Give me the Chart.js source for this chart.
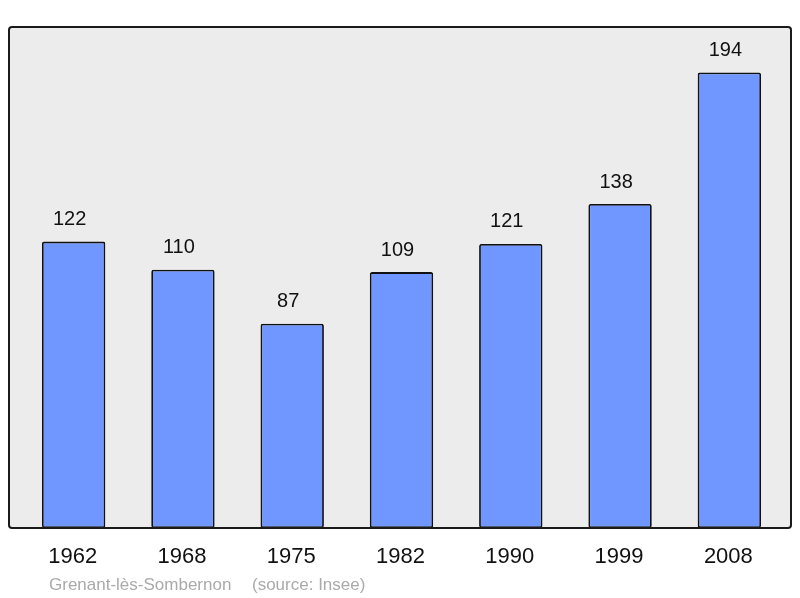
<!DOCTYPE html>
<html>
<head>
<meta charset="utf-8">
<script src="https://cdn.jsdelivr.net/npm/chart.js@4"></script>
<style>
  html, body { margin: 0; padding: 0; background: #fff; }
  #wrap { width: 800px; height: 598px; }
</style>
</head>
<body>
<div id="wrap"><canvas id="popChart" width="800" height="598"></canvas></div>
<script>
const years = ["1962", "1968", "1975", "1982", "1990", "1999", "2008"];
const population = [122, 110, 87, 109, 121, 138, 194];
const townName = "Grenant-lès-Sombernon";
const sourceText = "(source: Insee)";

// box behind the bars, a bit wider than the chart area
const boxPlugin = {
  id: "box",
  beforeDatasetsDraw(chart) {
    const { ctx, chartArea } = chart;
    const l = chartArea.left - 10, r = chartArea.right + 7;
    const t = chartArea.top, b = chartArea.bottom;
    ctx.save();
    ctx.beginPath();
    ctx.roundRect(l, t, r - l, b - t, 3);
    ctx.fillStyle = "#ececec";
    ctx.fill();
    ctx.restore();
  },
  afterDatasetsDraw(chart) {
    const { ctx, chartArea } = chart;
    const l = chartArea.left - 10, r = chartArea.right + 7;
    const t = chartArea.top, b = chartArea.bottom;
    ctx.save();
    ctx.beginPath();
    ctx.roundRect(l, t, r - l, b - t, 3);
    ctx.lineWidth = 2;
    ctx.strokeStyle = "#1a1a1a";
    ctx.stroke();
    ctx.restore();
  }
};

// value labels, year labels and source line
const labelPlugin = {
  id: "labels",
  afterDraw(chart) {
    const { ctx, chartArea } = chart;
    const xs = chart.scales.x, ys = chart.scales.y;
    ctx.save();
    ctx.textAlign = "center";
    ctx.textBaseline = "middle";
    ctx.fillStyle = "#111";
    ctx.font = "20px 'Liberation Sans', Arial, sans-serif";
    population.forEach((v, i) => {
      ctx.fillText(String(v), xs.getPixelForValue(i) - 4, ys.getPixelForValue(v) - 22);
    });
    ctx.font = "22px 'Liberation Sans', Arial, sans-serif";
    years.forEach((y, i) => {
      ctx.fillText(y, xs.getPixelForValue(i) - 1, chartArea.bottom + 29);
    });
    ctx.textAlign = "left";
    ctx.fillStyle = "#aaaaaa";
    ctx.font = "17px 'Liberation Sans', Arial, sans-serif";
    ctx.fillText(townName, 49, chartArea.bottom + 57);
    ctx.fillText(sourceText, 252, chartArea.bottom + 57);
    ctx.restore();
  }
};

const chart = new Chart(document.getElementById("popChart").getContext("2d"), {
  type: "bar",
  data: {
    labels: years,
    datasets: [
      {
        data: population,
        backgroundColor: "#7096ff",
        borderColor: "#111",
        borderWidth: 1.8,
        borderSkipped: false,
        borderRadius: 2,
        barPercentage: 0.58,
        categoryPercentage: 1,
      },
    ],
  },
  options: {
    responsive: false,
    animation: false,
    layout: {
      padding: { top: 27, bottom: 70, left: 19, right: 16 },
    },
    scales: {
      x: { display: false, offset: true },
      y: { display: false, min: 0, max: 213.4 },
    },
    plugins: {
      legend: { display: false },
      tooltip: { enabled: false },
    },
  },
  plugins: [boxPlugin, labelPlugin],
});
</script>
</body>
</html>
